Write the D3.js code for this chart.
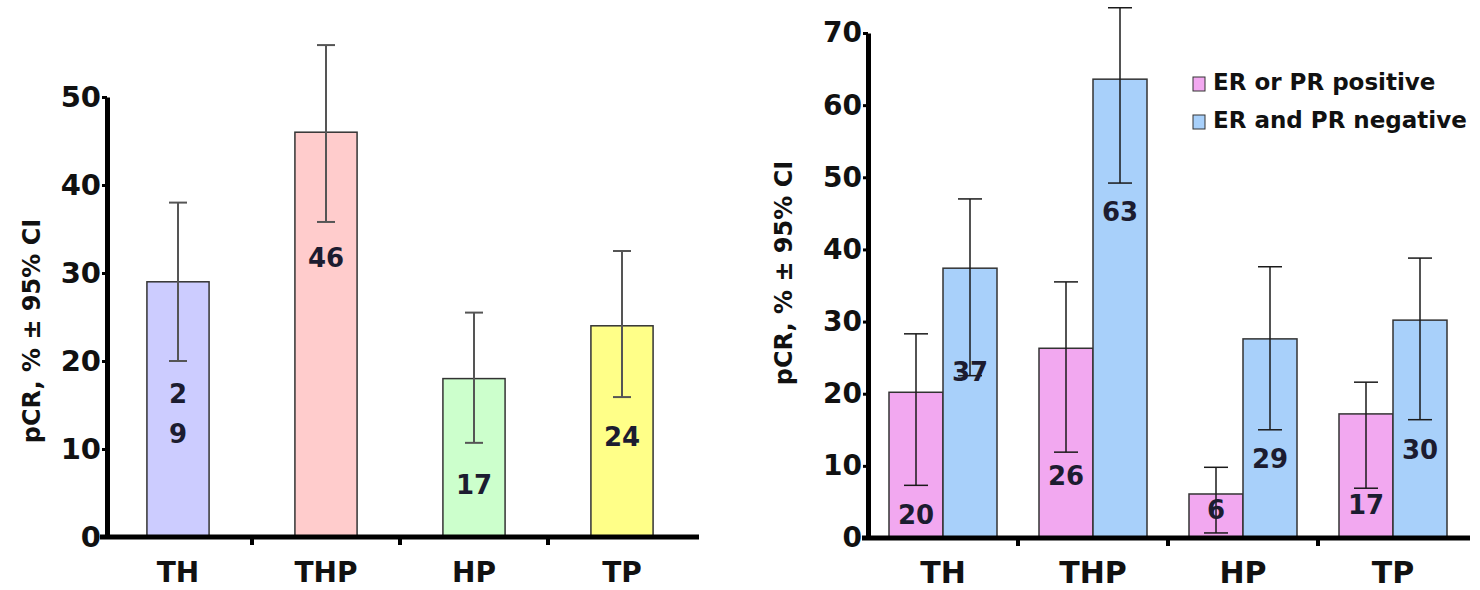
<!DOCTYPE html>
<html>
<head>
<meta charset="utf-8">
<script src="https://cdn.jsdelivr.net/npm/d3@7"></script>
<style>
	body { margin: 0; background: #fff; }
	svg text { font-family: "DejaVu Sans", sans-serif; font-weight: bold; }
</style>
</head>
<body>
<svg id="chart" width="1480" height="590"></svg>
<script>
// left panel: all patients
var categories = ["TH", "THP", "HP", "TP"];
var allValues = [29, 46, 18, 24];
var allLow = [20, 35.8, 10.7, 15.9];
var allHigh = [38, 55.9, 25.5, 32.5];
var allLabels = ["2\n9", "46", "17", "24"];
var allLabelAt = [14, 31.8, 5.9, 11.4]; // label centre, in % units
var allColors = ["#ccccff", "#ffcccc", "#ccffcc", "#ffff88"];
var leftTicks = [0, 10, 20, 30, 40, 50];

// right panel: by hormone receptor status
var seriesNames = ["ER or PR positive", "ER and PR negative"];
var seriesColors = ["#f2a8f0", "#a8d0fa"];
var posValues = [20.2, 26.3, 6.1, 17.2];
var posLow = [7.3, 11.9, 0.7, 6.9];
var posHigh = [28.3, 35.5, 9.8, 21.6];
var posLabels = ["20", "26", "6", "17"];
var posLabelAt = [3.2, 8.6, 3.9, 4.6];
var negValues = [37.4, 63.6, 27.6, 30.2];
var negLow = [22.5, 49.2, 15, 16.4];
var negHigh = [47, 73.5, 37.6, 38.8];
var negLabels = ["37", "63", "29", "30"];
var negLabelAt = [23.1, 45.2, 11, 12.3];
var rightTicks = [0, 10, 20, 30, 40, 50, 60, 70];

var yTitle = "pCR, % \u00b1 95% CI";

var svg = d3.select("#chart");

function drawAxes(g, x, y, ticks, xStart, xEnd, axisX, catX, titleX, titleY, fontTick, fontCat) {
	var yAxis = d3.axisLeft(y).tickValues(ticks).tickSize(5).tickSizeOuter(0).tickPadding(1);
	var ya = g.append("g").attr("transform", "translate(" + axisX + ",0)").call(yAxis);
	ya.select(".domain").attr("stroke", "#000").attr("stroke-width", 5);
	ya.selectAll(".tick line").attr("stroke", "#000").attr("stroke-width", 3);
	ya.selectAll(".tick text")
		.attr("font-size", fontTick)
		.attr("fill", "#111")
		.style("font-family", "DejaVu Sans")
		.style("font-weight", "bold");

	var y0 = y(0);
	g.append("line")
		.attr("x1", xStart).attr("x2", xEnd)
		.attr("y1", y0).attr("y2", y0)
		.attr("stroke", "#000").attr("stroke-width", 5);

	var step = x.step();
	g.selectAll(".xtick")
		.data(categories.slice(1))
		.enter().append("line")
		.attr("class", "xtick")
		.attr("x1", function(d) { return x(d) - step * x.paddingInner() / 2; })
		.attr("x2", function(d) { return x(d) - step * x.paddingInner() / 2; })
		.attr("y1", y0).attr("y2", y0 + 8)
		.attr("stroke", "#000").attr("stroke-width", 4);

	g.selectAll(".cat")
		.data(categories)
		.enter().append("text")
		.attr("class", "cat")
		.attr("x", function(d) { return catX(d); })
		.attr("y", y0 + 45)
		.attr("text-anchor", "middle")
		.attr("font-size", fontCat)
		.attr("fill", "#111")
		.text(function(d) { return d; });

	g.append("text")
		.attr("transform", "translate(" + titleX + "," + titleY + ") rotate(-90)")
		.attr("text-anchor", "middle")
		.attr("font-size", 24)
		.attr("fill", "#111")
		.text(yTitle);
}

function drawErrors(g, xs, lows, highs, y, cap, color, width) {
	var data = xs.map(function(x, i) { return { x: x, lo: lows[i], hi: highs[i] }; });
	var e = g.selectAll(null).data(data).enter().append("g");
	e.append("line")
		.attr("x1", function(d) { return d.x; }).attr("x2", function(d) { return d.x; })
		.attr("y1", function(d) { return y(d.lo); }).attr("y2", function(d) { return y(d.hi); })
		.attr("stroke", color).attr("stroke-width", width);
	[ "lo", "hi" ].forEach(function(k) {
		e.append("line")
			.attr("x1", function(d) { return d.x - cap / 2; }).attr("x2", function(d) { return d.x + cap / 2; })
			.attr("y1", function(d) { return y(d[k]); }).attr("y2", function(d) { return y(d[k]); })
			.attr("stroke", color).attr("stroke-width", width);
	});
}

function drawLabels(g, xs, labels, at, y) {
	labels.forEach(function(lbl, i) {
		var lines = lbl.split("\n");
		lines.forEach(function(line, j) {
			g.append("text")
				.attr("x", xs[i])
				.attr("y", y(at[i]) + (j - (lines.length - 1) / 2) * 40)
				.attr("dy", "0.36em")
				.attr("text-anchor", "middle")
				.attr("font-size", 26)
				.attr("fill", "#1c1c30")
				.text(line);
		});
	});
}

// ---------- left panel ----------
var left = svg.append("g");
var xL = d3.scaleBand().domain(categories).range([104, 696]).paddingInner(0.58).paddingOuter(0.29);
var yL = d3.scaleLinear().domain([0, 50]).range([537, 97]);

left.selectAll(".bar")
	.data(allValues)
	.enter().append("rect")
	.attr("class", "bar")
	.attr("x", function(d, i) { return xL(categories[i]); })
	.attr("y", function(d) { return yL(d); })
	.attr("width", xL.bandwidth())
	.attr("height", function(d) { return yL(0) - yL(d); })
	.attr("fill", function(d, i) { return allColors[i]; })
	.attr("stroke", "#333")
	.attr("stroke-width", 1.5);

var xLc = categories.map(function(c) { return xL(c) + xL.bandwidth() / 2; });
drawErrors(left, xLc, allLow, allHigh, yL, 18, "#555", 2);
drawLabels(left, xLc, allLabels, allLabelAt, yL);
drawAxes(left, xL, yL, leftTicks, 100, 699, 107,
	function(d) { return xL(d) + xL.bandwidth() / 2; }, 40, 331, 29, 28);

// ---------- right panel ----------
var right = svg.append("g");
var xR = d3.scaleBand().domain(categories).range([868, 1468]).paddingInner(0.28).paddingOuter(0.14);
var xS = d3.scaleBand().domain(seriesNames).range([0, xR.bandwidth()]);
var yR = d3.scaleLinear().domain([0, 70]).range([538, 33]);

var series = [
	{ name: seriesNames[0], values: posValues, low: posLow, high: posHigh, labels: posLabels, at: posLabelAt, color: seriesColors[0] },
	{ name: seriesNames[1], values: negValues, low: negLow, high: negHigh, labels: negLabels, at: negLabelAt, color: seriesColors[1] }
];

series.forEach(function(s) {
	right.selectAll(null)
		.data(s.values)
		.enter().append("rect")
		.attr("x", function(d, i) { return xR(categories[i]) + xS(s.name); })
		.attr("y", function(d) { return yR(d); })
		.attr("width", xS.bandwidth())
		.attr("height", function(d) { return yR(0) - yR(d); })
		.attr("fill", s.color)
		.attr("stroke", "#333")
		.attr("stroke-width", 1.5);
});

series.forEach(function(s) {
	var xs = categories.map(function(c) { return xR(c) + xS(s.name) + xS.bandwidth() / 2; });
	drawErrors(right, xs, s.low, s.high, yR, 24, "#1a1a1a", 1.5);
	drawLabels(right, xs, s.labels, s.at, yR);
});

drawAxes(right, xR, yR, rightTicks, 862, 1470, 868,
	function(d) { return xR(d) + xR.bandwidth() / 2; }, 792, 273, 28, 30);

// legend
var legend = right.append("g").attr("transform", "translate(1193,0)");
seriesNames.forEach(function(name, i) {
	legend.append("rect")
		.attr("x", 0).attr("y", 77 + i * 38)
		.attr("width", 12).attr("height", 14)
		.attr("fill", seriesColors[i])
		.attr("stroke", "#333")
		.attr("stroke-width", 1);
	legend.append("text")
		.attr("x", 20).attr("y", 90 + i * 38)
		.attr("font-size", 23)
		.attr("fill", "#111")
		.text(name);
});
</script>
</body>
</html>
